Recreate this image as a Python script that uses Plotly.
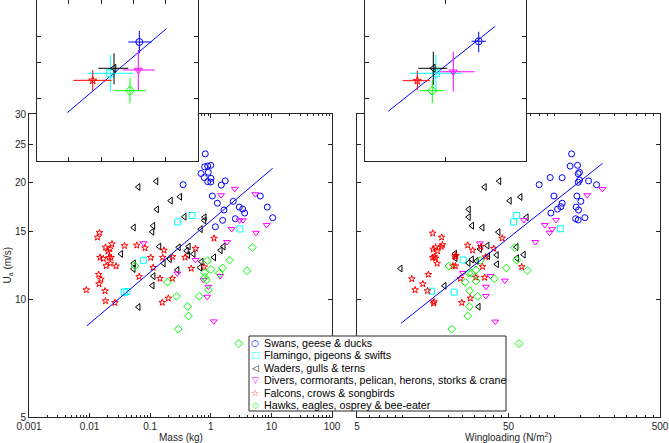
import math
import plotly.graph_objects as go

# ---------------- data ----------------
group_names = ["Swans, geese & ducks", "Flamingo, pigeons & swifts", "Waders, gulls & terns",
               "Divers, cormorants, pelican, herons, storks & crane", "Falcons, crows & songbirds",
               "Hawks, eagles, osprey & bee-eater"]

swans_mass = [0.81, 0.79, 0.89, 1.0, 0.69, 0.91, 0.78, 1.01, 0.89, 1.0, 0.35, 1.49, 1.73, 1.06, 1.28, 2.35,
              1.65, 6.56, 2.95, 3.36, 3.62, 8.55, 10.5, 2.54, 1.57, 1.19]
swans_U_m = [23.7, 21.95, 22.05, 22.15, 21.1, 21.25, 20.6, 20.5, 20.1, 20.07, 19.75, 19.7, 20.2, 18.47, 17.7,
             17.9, 17.0, 18.47, 17.3, 17.1, 16.7, 17.3, 16.25, 16.15, 16.0, 15.4]
swans_wl = [130.4, 127.6, 142.8, 147.2, 144.2, 147.2, 144.2, 168.8, 190.6, 113, 94.2, 79.7, 99.7, 141.3, 150.2,
            113, 110.8, 105.4, 95.2, 139.8, 145, 138.6, 144.2, 159.6]
swans_U_w = [23.7, 22.05, 22.15, 21.25, 21.08, 20.3, 20.03, 20.2, 19.75, 20.58, 20.6, 19.75, 18.47, 18.47, 17.9,
             17.7, 17.34, 17.1, 16.7, 17.3, 17.0, 16.15, 16.03, 16.25]

flam_mass = [0.0374, 0.041, 0.0769, 0.284, 0.49, 3.03]
flam_U_m = [10.45, 10.5, 12.63, 15.85, 16.46, 15.2]
flam_wl = [56.6, 54, 25.1, 15.55, 21.9, 109.7]
flam_U_w = [16.46, 15.85, 12.65, 10.52, 10.46, 15.22]

waders_mass = [0.126, 0.0637, 0.218, 0.310, 0.129, 0.112, 0.108, 0.0534, 0.368, 0.787, 0.78, 0.681, 0.141,
               0.295, 0.033, 0.0535, 0.053, 0.166, 0.21, 0.28, 0.43, 0.40, 0.42, 0.518, 0.703, 0.663, 1.13,
               1.45, 1.62, 0.113, 0.109, 0.064]
waders_U_m = [20.15, 19.48, 17.97, 18.39, 17.07, 15.49, 14.95, 15.33, 16.34, 16.29, 15.98, 15.18, 13.7, 13.64,
              13.12, 12.4, 12.0, 12.4, 12.72, 11.93, 13.7, 13.36, 13.03, 13.11, 12.53, 12.1, 12.85, 13.4, 13.7,
              11.5, 10.88, 9.58]
waders_wl = [9.68, 18.9, 22.15, 22.3, 27.3, 27.3, 28.7, 33.6, 34.8, 43.4, 50.9, 59.9, 42.9, 36.3, 32.4, 28.6,
             27.2, 41.8, 41.9, 56.4, 62.9, 56.8, 65.8, 31.7, 30.8, 36.6]
waders_U_w = [12.03, 10.86, 13.13, 12.8, 17.06, 16.31, 15.5, 15.33, 19.48, 20.17, 17.96, 18.37, 14.92, 13.78,
              13.5, 12.69, 12.43, 13.03, 12.34, 13.66, 13.06, 12.79, 16.29, 9.6, 12.58, 12.95]

divers_mass = [0.0774, 1.48, 2.49, 5.42, 2.21, 2.98, 3.40, 8.36, 5.57, 1.85, 0.56, 0.28, 0.76, 0.91, 0.87,
               1.43, 1.12]
divers_U_m = [13.97, 18.56, 19.27, 18.67, 15.2, 16.0, 16.0, 15.56, 14.86, 14.07, 12.65, 11.68, 11.24, 10.8,
              10.18, 11.51, 8.8]
divers_wl = [208.2, 165.3, 103, 86.9, 97.1, 93.3, 75.2, 63.2, 32.4, 25.0, 38, 35.5, 47.3, 40.9, 35.4]
divers_U_w = [19.25, 18.56, 16.03, 15.56, 15.18, 14.87, 14.07, 16.03, 13.96, 11.72, 11.51, 10.8, 11.2, 8.79,
              10.23]

falcons_mass = [0.00883, 0.0135, 0.01456, 0.01485, 0.01683, 0.0183, 0.0201, 0.0217, 0.0226, 0.022, 0.0188,
                0.0273, 0.0234, 0.0377, 0.0599, 0.082, 0.102, 0.161, 0.169, 0.233, 0.375, 0.56, 1.13, 0.475,
                0.778, 0.0658, 0.112, 0.145, 0.232, 0.0141, 0.0154, 0.0143, 0.0180, 0.0183, 0.0262, 0.158,
                0.199, 0.0209]
falcons_U_m = [10.6, 14.47, 14.87, 12.84, 12.75, 13.64, 13.32, 13.5, 12.84, 12.4, 12.22, 12.2, 13.91, 13.76,
               13.8, 13.58, 12.84, 12.84, 13.4, 12.9, 12.85, 13.54, 14.38, 12.03, 12.13, 11.46, 12.1, 11.34,
               11.34, 11.61, 11.29, 10.98, 10.53, 9.93, 9.83, 9.84, 10.09, 12.84]
falcons_wl = [15.8, 18.1, 18.3, 18.0, 15.9, 16.5, 17.0, 15.8, 16.2, 16.5, 16.9, 14.8, 11.5, 13.6, 12.1, 14.6,
              16.1, 16.0, 26.9, 29.0, 22.2, 21.5, 22.3, 32.9, 40, 35.3, 33.7, 24.1, 30.4, 34.8, 28.0, 24.6,
              45.4, 61.1, 22.5]
falcons_U_w = [14.82, 14.47, 13.84, 13.69, 13.48, 13.64, 13.34, 12.84, 12.9, 12.78, 12.4, 11.61, 11.31, 10.98,
               10.6, 10.54, 9.88, 9.79, 13.8, 13.4, 12.88, 12.21, 12.21, 13.69, 13.54, 12.88, 12.16, 11.34,
               11.42, 11.41, 10.09, 9.83, 14.39, 12.15, 12.99]

hawks_mass = [0.0561, 0.193, 0.272, 0.416, 0.429, 0.29, 0.646, 0.793, 0.802, 0.849, 0.883, 0.916, 1.007, 1.38,
              1.57, 2.04, 3.96, 4.84, 2.89]
hawks_U_m = [12.21, 11.1, 10.21, 9.61, 9.09, 8.41, 10.21, 11.74, 11.42, 11.24, 12.6, 10.6, 11.97, 11.7, 12.07,
             12.64, 11.87, 13.62, 7.72]
hawks_wl = [20.2, 25.9, 30.6, 30.5, 27.4, 28.4, 31.3, 27.6, 26.9, 21.1, 40.4, 48.4, 56.6, 66.6, 55.1, 58.6,
            32.6, 27.7]
hawks_U_w = [12.21, 11.09, 11.17, 11.93, 11.7, 11.7, 10.21, 9.6, 9.09, 8.41, 11.32, 12.07, 12.64, 11.89, 13.62,
             7.72, 12.61, 10.55]

# group means with spread (insets), order = group_names
mean_mass = [1.54, 0.193, 0.252, 1.43, 0.0548, 0.79]
mass_lo = [0.70, 0.0373, 0.082, 0.47, 0.0137, 0.252]
mass_hi = [3.73, 1.0, 0.70, 4.72, 0.213, 2.43]
mean_U_m = [18.8, 13.27, 14.03, 13.77, 12.27, 10.93]
U_lo_m = [16.58, 10.81, 11.74, 10.93, 10.93, 9.5]
U_hi_m = [21.25, 16.27, 16.58, 17.2, 13.77, 12.64]

mean_wl = [130, 38.2, 35.4, 62.8, 22.4, 34.4]
wl_lo = [106, 18.2, 23, 42.9, 14.7, 24.2]
wl_hi = [160, 79.9, 52.9, 116, 32.2, 48.5]
mean_U_w = [18.95, 13.27, 14.03, 13.5, 12.22, 10.93]
U_lo_w = [16.76, 10.81, 11.65, 10.81, 11.02, 9.5]
U_hi_w = [21.08, 16.27, 16.87, 16.87, 13.66, 12.31]

# fitted power-law lines (end points)
fit_mass = [0.009, 10.5]
fit_U_mass = [8.57, 21.76]
fit_wl = [9.75, 208.8]
fit_U_wl = [8.7, 22.4]

# axis ranges / ticks
mass_range = [0.001, 100]
wl_range = [5, 500]
U_range = [5, 30]
mass_ticks = [0.001, 0.01, 0.1, 1, 10, 100]
mass_ticktext = ["0.001", "0.01", "0.1", "1", "10", "100"]
wl_ticks = [5, 50, 500]
wl_ticktext = ["5", "50", "500"]
U_ticks = [5, 10, 15, 20, 25, 30]
U_ticktext = ["5", "10", "15", "20", "25", "30"]

# ---------------- styling ----------------
W, H = 669, 443
AX = "#262626"
FONT = "Liberation Sans, Arial, sans-serif"

colors = ["#0000FF", "#00FFFF", "#000000", "#FF00FF", "#FF0000", "#00FF00"]
symbols = ["circle-open", "square-open", "triangle-left-open", "triangle-down-open", "star-open", "diamond-open"]
sizes = [6, 6, 6, 6, 5, 6]
legend_glyphs = ["○", "□", "◁", "▽", "☆", "◇"]

mass_sets = [(swans_mass, swans_U_m), (flam_mass, flam_U_m), (waders_mass, waders_U_m),
             (divers_mass, divers_U_m), (falcons_mass, falcons_U_m), (hawks_mass, hawks_U_m)]
wl_sets = [(swans_wl, swans_U_w), (flam_wl, flam_U_w), (waders_wl, waders_U_w),
           (divers_wl, divers_U_w), (falcons_wl, falcons_U_w), (hawks_wl, hawks_U_w)]


def fx(p):
    return p / W


def fy(p):
    return 1 - p / H


def minor_vals(lo, hi, mults):
    out = []
    d = math.floor(math.log10(lo))
    while 10 ** d <= hi:
        for k in mults:
            v = k * 10 ** d
            if lo < v < hi:
                out.append(v)
        d += 1
    return out


fig = go.Figure()

# main panels
for i in range(6):
    mx, my = mass_sets[i]
    fig.add_trace(go.Scatter(x=mx, y=my, mode="markers", xaxis="x", yaxis="y", name=group_names[i],
                             marker=dict(symbol=symbols[i], size=sizes[i], color=colors[i],
                                         line=dict(width=1, color=colors[i])),
                             showlegend=False, hoverinfo="skip"))
fig.add_trace(go.Scatter(x=fit_mass, y=fit_U_mass, mode="lines", xaxis="x", yaxis="y",
                         line=dict(color="#0000FF", width=1), showlegend=False, hoverinfo="skip"))
for i in range(6):
    wx, wy = wl_sets[i]
    fig.add_trace(go.Scatter(x=wx, y=wy, mode="markers", xaxis="x2", yaxis="y2", name=group_names[i],
                             marker=dict(symbol=symbols[i], size=sizes[i], color=colors[i],
                                         line=dict(width=1, color=colors[i])),
                             showlegend=False, hoverinfo="skip"))
fig.add_trace(go.Scatter(x=fit_wl, y=fit_U_wl, mode="lines", xaxis="x2", yaxis="y2",
                         line=dict(color="#0000FF", width=1), showlegend=False, hoverinfo="skip"))


# insets: white backing, then fit line and group means with spread
def add_inset(xa, ya, xr, means_x, lo_x, hi_x, means_y, lo_y, hi_y, fitx, fity):
    fig.add_trace(go.Scatter(x=[xr[0], xr[1], xr[1], xr[0]], y=[U_range[0], U_range[0], U_range[1], U_range[1]],
                             mode="lines", fill="toself", fillcolor="white", line=dict(width=0),
                             xaxis=xa, yaxis=ya, showlegend=False, hoverinfo="skip"))
    fig.add_trace(go.Scatter(x=fitx, y=fity, mode="lines", xaxis=xa, yaxis=ya,
                             line=dict(color="#0000FF", width=1), showlegend=False, hoverinfo="skip"))
    for i in range(6):
        fig.add_trace(go.Scatter(
            x=[means_x[i]], y=[means_y[i]], mode="markers", xaxis=xa, yaxis=ya,
            marker=dict(symbol=symbols[i], size=sizes[i] + 1, color=colors[i],
                        line=dict(width=1, color=colors[i])),
            error_x=dict(type="data", symmetric=False, array=[hi_x[i] - means_x[i]],
                         arrayminus=[means_x[i] - lo_x[i]], color=colors[i], thickness=1, width=0),
            error_y=dict(type="data", symmetric=False, array=[hi_y[i] - means_y[i]],
                         arrayminus=[means_y[i] - lo_y[i]], color=colors[i], thickness=1, width=0),
            showlegend=False, hoverinfo="skip"))


add_inset("x3", "y3", mass_range, mean_mass, mass_lo, mass_hi, mean_U_m, U_lo_m, U_hi_m, fit_mass, fit_U_mass)
add_inset("x4", "y4", wl_range, mean_wl, wl_lo, wl_hi, mean_U_w, U_lo_w, U_hi_w, fit_wl, fit_U_wl)

ax_common = dict(type="log", showline=True, linecolor=AX, linewidth=1, mirror="ticks", ticks="inside",
                 ticklen=4, tickcolor=AX, tickwidth=1, showgrid=False, zeroline=False, automargin=False,
                 tickfont=dict(size=10, color=AX, family=FONT))
lg = math.log10

mass_minor = dict(ticks="inside", ticklen=2, tickcolor=AX, showgrid=False,
                  tickvals=minor_vals(0.001, 100, range(2, 10)))
wl_minor = dict(ticks="inside", ticklen=2, tickcolor=AX, showgrid=False,
                tickvals=minor_vals(5, 500, [1, 1.5, 2, 2.5, 3, 3.5, 4, 4.5, 6, 7, 8, 9]))

fig.update_layout(
    template="none",
    width=W, height=H, margin=dict(l=0, r=0, t=0, b=0, pad=0), autosize=False,
    paper_bgcolor="white", plot_bgcolor="white", showlegend=False,
    font=dict(family=FONT, size=10, color=AX),
    xaxis=dict(ax_common, domain=[fx(29), fx(332)], anchor="y", range=[lg(mass_range[0]), lg(mass_range[1])],
               tickvals=mass_ticks, ticktext=mass_ticktext, minor=mass_minor),
    yaxis=dict(ax_common, domain=[fy(417), fy(114)], anchor="x", range=[lg(U_range[0]), lg(U_range[1])],
               tickvals=U_ticks, ticktext=U_ticktext),
    xaxis2=dict(ax_common, domain=[fx(357), fx(660)], anchor="y2", range=[lg(wl_range[0]), lg(wl_range[1])],
                tickvals=wl_ticks, ticktext=wl_ticktext, minor=wl_minor),
    yaxis2=dict(ax_common, domain=[fy(417), fy(114)], anchor="x2", range=[lg(U_range[0]), lg(U_range[1])],
                tickvals=U_ticks, showticklabels=False),
    xaxis3=dict(ax_common, domain=[fx(36.7), fx(197.7)], anchor="y3",
                range=[lg(mass_range[0]), lg(mass_range[1])], tickvals=mass_ticks, showticklabels=False),
    yaxis3=dict(ax_common, domain=[fy(161), 1.0], anchor="x3", range=[lg(U_range[0]), lg(U_range[1])],
                tickvals=[10, 15, 20], showticklabels=False),
    xaxis4=dict(ax_common, domain=[fx(365), fx(525.7)], anchor="y4",
                range=[lg(wl_range[0]), lg(wl_range[1])], tickvals=wl_ticks, showticklabels=False),
    yaxis4=dict(ax_common, domain=[fy(161), 1.0], anchor="x4", range=[lg(U_range[0]), lg(U_range[1])],
                tickvals=[10, 15, 20], showticklabels=False),
)

annotations = [
    dict(text="Mass (kg)", x=fx(181), y=fy(437), xref="paper", yref="paper", showarrow=False,
         xanchor="center", yanchor="middle", font=dict(size=10, color=AX, family=FONT)),
    dict(text="Wingloading (N/m<sup>2</sup>)", x=fx(508.5), y=fy(437), xref="paper", yref="paper",
         showarrow=False, xanchor="center", yanchor="middle", font=dict(size=10, color=AX, family=FONT)),
    dict(text="U<sub>a</sub> (m/s)", x=fx(7), y=fy(265.5), xref="paper", yref="paper", showarrow=False,
         textangle=-90, xanchor="center", yanchor="middle", font=dict(size=10, color=AX, family=FONT)),
]

# legend (box + rows)
LEG_X0, LEG_X1, LEG_Y0, LEG_Y1 = 249, 506, 336, 411
row_h = (LEG_Y1 - LEG_Y0) / 6
shapes = [dict(type="rect", xref="paper", yref="paper", x0=fx(LEG_X0), x1=fx(LEG_X1), y0=fy(LEG_Y1),
               y1=fy(LEG_Y0), line=dict(color=AX, width=1), fillcolor="white", layer="above")]
for i in range(6):
    yc = LEG_Y0 + row_h * (i + 0.55)
    annotations.append(dict(text=legend_glyphs[i], x=fx(255.5), y=fy(yc), xref="paper", yref="paper",
                            showarrow=False, xanchor="center", yanchor="middle",
                            font=dict(size=9, color=colors[i], family="DejaVu Sans")))
    annotations.append(dict(text=group_names[i], x=fx(261.5), y=fy(yc), xref="paper", yref="paper",
                            showarrow=False, xanchor="left", yanchor="middle",
                            font=dict(size=10.7, color="#000000", family=FONT)))

fig.update_layout(annotations=annotations, shapes=shapes)

fig.write_html("out.html",
               config={"displayModeBar": False, "staticPlot": True},
               post_script="document.documentElement.style.margin='0';"
                           "document.body.style.margin='0';document.body.style.padding='0';"
                           "document.body.style.overflow='hidden';")
